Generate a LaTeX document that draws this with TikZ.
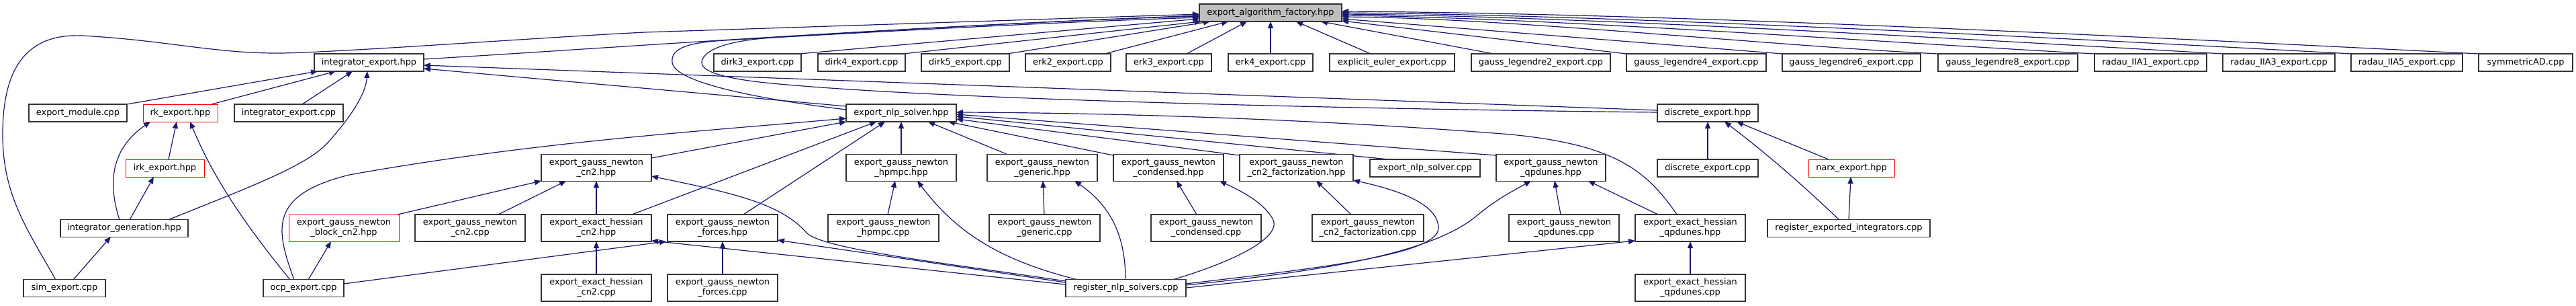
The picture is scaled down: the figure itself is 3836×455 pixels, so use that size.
\documentclass[tikz,border=0pt]{standalone}
\usepackage{fontspec}
\setmainfont{DejaVu Sans}
\usetikzlibrary{arrows.meta,calc}
\definecolor{edgeblue}{HTML}{191970}
\pgfdeclarelayer{bg}
\pgfsetlayers{bg,main}
\tikzset{
 box/.style={draw=black!80, line width=1.3pt, fill=white, inner sep=0pt, minimum height=26pt, align=center, font=\fontsize{12.9}{15}\selectfont},
 box2/.style={box, minimum height=40pt},
 redbox/.style={draw=red, line width=0.9pt},
 edge/.style={draw=edgeblue, line width=1.2pt, -{Triangle[length=10pt,width=8pt]}},
}
\begin{document}
\begin{tikzpicture}[x=1pt,y=-1pt]
\useasboundingbox (0,0) rectangle (3836,455);
% row 0
\node[box, fill=black!25, minimum width=212pt] (eaf) at (1892,19) {export\_algorithm\_factory.hpp};
% row 1
\node[box, minimum width=163pt] (ieh) at (549.5,93) {integrator\_export.hpp};
\node[box, minimum width=130pt] (dirk3) at (1128,93) {dirk3\_export.cpp};
\node[box, minimum width=130pt] (dirk4) at (1283,93) {dirk4\_export.cpp};
\node[box, minimum width=131pt] (dirk5) at (1437.5,93) {dirk5\_export.cpp};
\node[box, minimum width=127pt] (erk2) at (1590.5,93) {erk2\_export.cpp};
\node[box, minimum width=127pt] (erk3) at (1740.5,93) {erk3\_export.cpp};
\node[box, minimum width=126pt] (erk4) at (1892,93) {erk4\_export.cpp};
\node[box, minimum width=186pt] (eeul) at (2073,93) {explicit\_euler\_export.cpp};
\node[box, minimum width=207pt] (gl2) at (2294.5,93) {gauss\_legendre2\_export.cpp};
\node[box, minimum width=208pt] (gl4) at (2526,93) {gauss\_legendre4\_export.cpp};
\node[box, minimum width=206pt] (gl6) at (2757,93) {gauss\_legendre6\_export.cpp};
\node[box, minimum width=208pt] (gl8) at (2990,93) {gauss\_legendre8\_export.cpp};
\node[box, minimum width=167pt] (rad1) at (3202.5,93) {radau\_IIA1\_export.cpp};
\node[box, minimum width=167pt] (rad3) at (3393.5,93) {radau\_IIA3\_export.cpp};
\node[box, minimum width=166pt] (rad5) at (3584,93) {radau\_IIA5\_export.cpp};
\node[box, minimum width=140pt] (symad) at (3761,93) {symmetricAD.cpp};
% row 2
\node[box, minimum width=146pt] (emod) at (116,168) {export\_module.cpp};
\node[box, redbox, minimum width=111pt] (rk) at (268.5,168) {rk\_export.hpp};
\node[box, minimum width=162pt] (iec) at (430,168) {integrator\_export.cpp};
\node[box, minimum width=164pt] (ens) at (1342,168) {export\_nlp\_solver.hpp};
\node[box, minimum width=150pt] (dexh) at (2543,168) {discrete\_export.hpp};
% row 3
\node[box, redbox, minimum width=117pt] (irk) at (245.5,250) {irk\_export.hpp};
\node[box2, minimum width=164pt] (gncn2h) at (888,249.5) {export\_gauss\_newton\\\_cn2.hpp};
\node[box2, minimum width=164pt] (hpmpch) at (1342,249.5) {export\_gauss\_newton\\\_hpmpc.hpp};
\node[box2, minimum width=164pt] (generich) at (1552,249.5) {export\_gauss\_newton\\\_generic.hpp};
\node[box2, minimum width=164pt] (condh) at (1740,249.5) {export\_gauss\_newton\\\_condensed.hpp};
\node[box2, minimum width=169pt] (cn2fh) at (1930.5,249.5) {export\_gauss\_newton\\\_cn2\_factorization.hpp};
\node[box, minimum width=164pt] (ensc) at (2122,250) {export\_nlp\_solver.cpp};
\node[box2, minimum width=163pt] (qph) at (2309.5,249.5) {export\_gauss\_newton\\\_qpdunes.hpp};
\node[box, minimum width=150pt] (dexc) at (2543,250) {discrete\_export.cpp};
\node[box, redbox, minimum width=128pt] (narx) at (2757,250) {narx\_export.hpp};
% row 4
\node[box, minimum width=190pt] (igen) at (185,339.5) {integrator\_generation.hpp};
\node[box2, redbox, minimum width=164pt] (blk) at (512,339) {export\_gauss\_newton\\\_block\_cn2.hpp};
\node[box2, minimum width=164pt] (gncn2c) at (700,339) {export\_gauss\_newton\\\_cn2.cpp};
\node[box2, minimum width=164pt] (ehcn2h) at (888,339) {export\_exact\_hessian\\\_cn2.hpp};
\node[box2, minimum width=164pt] (forh) at (1076,339) {export\_gauss\_newton\\\_forces.hpp};
\node[box2, minimum width=165pt] (hpmpcc) at (1315.5,339) {export\_gauss\_newton\\\_hpmpc.cpp};
\node[box2, minimum width=165pt] (genc) at (1555.5,339) {export\_gauss\_newton\\\_generic.cpp};
\node[box2, minimum width=164pt] (condc) at (1796,339) {export\_gauss\_newton\\\_condensed.cpp};
\node[box2, minimum width=166pt] (cn2fc) at (2037,339) {export\_gauss\_newton\\\_cn2\_factorization.cpp};
\node[box2, minimum width=164pt] (gnqpc) at (2329,339) {export\_gauss\_newton\\\_qpdunes.cpp};
\node[box2, minimum width=164pt] (ehqph) at (2517,339) {export\_exact\_hessian\\\_qpdunes.hpp};
\node[box, minimum width=242pt] (regint) at (2753,339.5) {register\_exported\_integrators.cpp};
% row 5
\node[box, minimum width=122pt] (sim) at (96,428.5) {sim\_export.cpp};
\node[box, minimum width=120pt] (ocp) at (452,428.5) {ocp\_export.cpp};
\node[box2, minimum width=164pt] (ehcn2c) at (888,428) {export\_exact\_hessian\\\_cn2.cpp};
\node[box2, minimum width=164pt] (forc) at (1076,428) {export\_gauss\_newton\\\_forces.cpp};
\node[box, minimum width=179pt] (regnlp) at (1676.5,428.5) {register\_nlp\_solvers.cpp};
\node[box2, minimum width=164pt] (ehqpc) at (2517,428) {export\_exact\_hessian\\\_qpdunes.cpp};

\begin{pgfonlayer}{bg}
\fill[white] (0,0) rectangle (3836,455);
% into export_algorithm_factory.hpp
\draw[edge] ($(sim)+(-13,-12.5)$) .. controls (40,340) and (4,290) .. (4,200)
  .. controls (4,100) and (40,50) .. (122,53)
  .. controls (250,60) and (320,80) .. (420,79)
  .. controls (520,77) and (800,56) .. (960,48) -- ($(eaf)+(-106,2)$);
\draw[edge] ($(ieh)+(81.5,-5)$) .. controls (900,72) and (1300,42) .. ($(eaf)+(-106,4)$);
\draw[edge] ($(ens)+(-82,-5)$) .. controls (1150,150) and (1005,125) .. (1001,93)
  .. controls (998,70) and (1030,63) .. (1080,60)
  .. controls (1300,47) and (1500,33) .. ($(eaf)+(-106,5)$);
\draw[edge] ($(dexh)+(-75,-1)$) .. controls (2000,162) and (1400,148) .. (1150,124)
  .. controls (1065,116) and (1043,103) .. (1045,92)
  .. controls (1048,72) and (1090,60) .. (1150,56)
  .. controls (1400,42) and (1600,32) .. ($(eaf)+(-106,7)$);
\draw[edge] ($(dirk3)+(62,-13)$) -- ($(eaf)+(-106,9)$);
\draw[edge] ($(dirk4)+(62,-13)$) -- ($(eaf)+(-103,13)$);
\draw[edge] ($(dirk5)+(62.5,-13)$) -- ($(eaf)+(-90,13)$);
\draw[edge] ($(erk2)+(54.5,-13)$) -- ($(eaf)+(-63,13)$);
\draw[edge] ($(erk3)+(26.5,-13)$) -- ($(eaf)+(-35,13)$);
\draw[edge] ($(erk4)+(0,-13)$) -- ($(eaf)+(0,13)$);
\draw[edge] ($(eeul)+(-32,-13)$) -- ($(eaf)+(38,13)$);
\draw[edge] ($(gl2)+(-70.5,-13)$) -- ($(eaf)+(75,13)$);
\draw[edge] ($(gl4)+(-104,-13)$) -- ($(eaf)+(106,12)$);
\draw[edge] ($(gl6)+(-103,-13)$) -- ($(eaf)+(106,9)$);
\draw[edge] ($(gl8)+(-104,-13)$) .. controls +(-250,-12) and +(250,2) .. ($(eaf)+(106,6)$);
\draw[edge] ($(rad1)+(-83.5,-13)$) .. controls +(-300,-16) and +(300,3) .. ($(eaf)+(106,4)$);
\draw[edge] ($(rad3)+(-83.5,-13)$) .. controls +(-350,-20) and +(350,3) .. ($(eaf)+(106,2)$);
\draw[edge] ($(rad5)+(-83,-13)$) .. controls +(-400,-22) and +(400,3) .. ($(eaf)+(106,0)$);
\draw[edge] ($(symad)+(-70,-13)$) .. controls +(-500,-25) and +(500,3) .. ($(eaf)+(106,-2)$);
% into integrator_export.hpp
\draw[edge] ($(ens)+(-82,-10)$) -- ($(ieh)+(81.5,9)$);
\draw[edge] ($(dexh)+(-75,-4)$) -- ($(ieh)+(81.5,4)$);
\draw[edge] ($(emod)+(73,-13)$) -- ($(ieh)+(-76.5,13)$);
\draw[edge] ($(rk)+(46.5,-13)$) -- ($(ieh)+(-49.5,13)$);
\draw[edge] ($(iec)+(20,-13)$) -- ($(ieh)+(-24.5,13)$);
\draw[edge] ($(igen)+(65,-12.5)$) .. controls (380,275) and (460,245) .. (490,210)
  .. controls (530,165) and (545,135) .. ($(ieh)+(-2.5,13)$);
% into rk_export.hpp, irk_export.hpp, integrator_generation.hpp
\draw[edge] ($(irk)+(5.5,-13)$) -- ($(rk)+(-5.5,13)$);
\draw[edge] ($(igen)+(-7,-12.5)$) .. controls (163,280) and (160,225) .. ($(rk)+(-44.5,13)$);
\draw[edge] ($(ocp)+(-20,-12.5)$) .. controls (370,340) and (320,270) .. ($(rk)+(14.5,13)$);
\draw[edge] ($(igen)+(8,-12.5)$) -- ($(irk)+(-16.5,13)$);
\draw[edge] ($(sim)+(13,-12.5)$) -- ($(igen)+(-20,12.5)$);
% from ocp_export.cpp
\draw[edge] ($(ocp)+(7,-12.5)$) -- ($(blk)+(-19,20)$);
\draw[edge] ($(ocp)+(-14,-12.5)$) .. controls (410,340) and (400,290) .. (520,260)
  .. controls (800,210) and (1050,195) .. ($(ens)+(-82,8)$);
\draw[edge] ($(ocp)+(60,-6.5)$) -- ($(forh)+(-84,20)$);
% into export_nlp_solver.hpp
\draw[edge] ($(gncn2h)+(82,-14.5)$) -- ($(ens)+(-82,13)$);
\draw[edge] ($(ehcn2h)+(53,-20)$) -- ($(ens)+(-37,13)$);
\draw[edge] ($(forh)+(31,-20)$) -- ($(ens)+(-24,13)$);
\draw[edge] ($(hpmpch)+(0,-19.5)$) -- ($(ens)+(0,13)$);
\draw[edge] ($(generich)+(-51,-19.5)$) -- ($(ens)+(40,13)$);
\draw[edge] ($(condh)+(-82,-18.5)$) -- ($(ens)+(70,13)$);
\draw[edge] ($(cn2fh)+(-84.5,-18.5)$) -- ($(ens)+(82,9)$);
\draw[edge] ($(ensc)+(-54,-13)$) -- ($(ens)+(82,5)$);
\draw[edge] ($(qph)+(-81.5,-18.5)$) -- ($(ens)+(82,2)$);
\draw[edge] ($(ehqph)+(-20,-20)$) .. controls (2450,250) and (2400,215) .. (2250,200)
  .. controls (2000,180) and (1700,168) .. ($(ens)+(82,-1)$);
% into export_gauss_newton_cn2.hpp
\draw[edge] ($(blk)+(80,-20)$) -- ($(gncn2h)+(-82,19.5)$);
\draw[edge] ($(gncn2c)+(42,-20)$) -- ($(gncn2h)+(-45,19.5)$);
\draw[edge] ($(ehcn2h)+(0,-20)$) -- ($(gncn2h)+(0,19.5)$);
\draw[edge] ($(regnlp)+(-89.5,-10.5)$) .. controls (1400,390) and (1220,370) .. (1200,345)
  .. controls (1160,300) and (1080,285) .. ($(gncn2h)+(82,12.5)$);
% from register_nlp_solvers.cpp and the sources
\draw[edge] ($(hpmpcc)+(6.5,-20)$) -- ($(hpmpch)+(-9,19.5)$);
\draw[edge] ($(regnlp)+(-71.5,-12.5)$) .. controls (1480,385) and (1420,340) .. ($(hpmpch)+(24,19.5)$);
\draw[edge] ($(genc)+(-0.5,-20)$) -- ($(generich)+(1,19.5)$);
\draw[edge] ($(regnlp)+(-0.5,-12.5)$) .. controls (1676,360) and (1660,310) .. ($(generich)+(48,19.5)$);
\draw[edge] ($(condc)+(-14,-20)$) -- ($(condh)+(12,19.5)$);
\draw[edge] ($(regnlp)+(69.5,-12.5)$) .. controls (1850,385) and (1910,350) .. (1895,325)
  .. controls (1880,300) and (1850,285) .. ($(condh)+(76,19.5)$);
\draw[edge] ($(cn2fc)+(-25,-20)$) -- ($(cn2fh)+(29.5,19.5)$);
\draw[edge] ($(regnlp)+(89.5,-6.5)$) .. controls (1950,400) and (2140,380) .. (2142,340)
  .. controls (2143,300) and (2070,280) .. ($(cn2fh)+(84.5,18.5)$);
\draw[edge] ($(regnlp)+(89.5,-4.5)$) .. controls (1950,405) and (2130,380) .. (2200,320)
  .. controls (2230,295) and (2260,280) .. ($(qph)+(-29.5,19.5)$);
\draw[edge] ($(gnqpc)+(-5,-20)$) -- ($(qph)+(5.5,19.5)$);
\draw[edge] ($(ehqph)+(-48,-20)$) -- ($(qph)+(55.5,19.5)$);
\draw[edge] ($(ehqpc)+(0,-20)$) -- ($(ehqph)+(0,20)$);
\draw[edge] ($(regnlp)+(89.5,-0.5)$) -- ($(ehqph)+(-82,19)$);
\draw[edge] ($(regnlp)+(-89.5,-8.5)$) -- ($(forh)+(82,18)$);
\draw[edge] ($(regnlp)+(-89.5,-5.5)$) -- ($(ehcn2h)+(82,19)$);
\draw[edge] ($(forc)+(0,-20)$) -- ($(forh)+(0,20)$);
\draw[edge] ($(ehcn2c)+(0,-20)$) -- ($(ehcn2h)+(0,20)$);
% into discrete_export.hpp and narx_export.hpp
\draw[edge] ($(dexc)+(0,-13)$) -- ($(dexh)+(0,13)$);
\draw[edge] ($(regint)+(-14,-12.5)$) .. controls (2700,290) and (2640,235) .. ($(dexh)+(25,13)$);
\draw[edge] ($(narx)+(-34,-13)$) -- ($(dexh)+(43,13)$);
\draw[edge] ($(regint)+(0,-12.5)$) -- ($(narx)+(-1,13)$);
\end{pgfonlayer}
\end{tikzpicture}
\end{document}
